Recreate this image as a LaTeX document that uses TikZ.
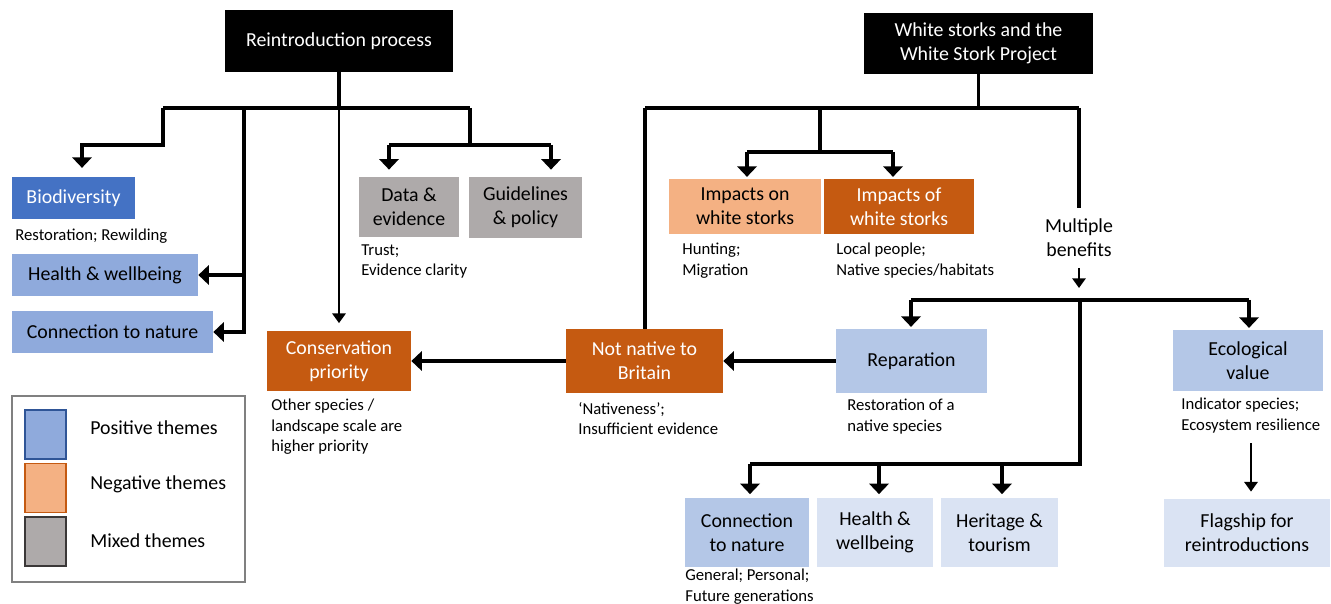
\documentclass[tikz,border=0pt]{standalone}
\usepackage{fontspec}
\setmainfont{Carlito}
\usetikzlibrary{arrows.meta}

\definecolor{posdark}{HTML}{4472C4}
\definecolor{posmid}{HTML}{8FAADC}
\definecolor{poslight}{HTML}{B4C7E7}
\definecolor{pospale}{HTML}{DAE3F3}
\definecolor{posedge}{HTML}{2F5597}
\definecolor{negdark}{HTML}{C55A11}
\definecolor{neglight}{HTML}{F4B183}
\definecolor{mixed}{HTML}{AEAAAA}
\definecolor{mixededge}{HTML}{3B3838}

\tikzset{
  box/.style={inner sep=0pt, align=center, font=\fontsize{11.3}{13.8}\selectfont},
  topbox/.style={box, fill=black, text=white},
  captext/.style={anchor=north west, inner sep=0pt, align=left, font=\fontsize{9.5}{11.5}\selectfont},
  link/.style={line width=1.8pt},
  arr/.style={line width=1.8pt, -{Triangle[width=11pt,length=6pt]}},
  thinarr/.style={line width=1.3pt, -{Triangle[width=7.5pt,length=5.5pt]}},
  swatch/.style={minimum width=0.82cm, minimum height=0.98cm, inner sep=0pt, line width=0.9pt}
}

\begin{document}
\begin{tikzpicture}[x=0.02cm, y=-0.02cm]
\useasboundingbox (0,0) rectangle (1331,604);

% headings
\node[topbox, minimum width=4.56cm, minimum height=1.24cm] (rp) at (339,41) {Reintroduction process};
\node[topbox, minimum width=4.58cm, minimum height=1.22cm] (ws) at (978.5,43.5) {White storks and the\\White Stork Project};

% reintroduction side
\node[box, fill=posdark, text=white, minimum width=2.46cm, minimum height=0.84cm] (bio) at (73.5,198) {Biodiversity};
\node[box, fill=posmid, minimum width=3.72cm, minimum height=0.84cm] (hw1) at (105,275) {Health \& wellbeing};
\node[box, fill=posmid, minimum width=4.02cm, minimum height=0.84cm] (cn1) at (112.5,332) {Connection to nature};
\node[box, fill=negdark, text=white, minimum width=2.88cm, minimum height=1.22cm] (cp) at (339,361) {Conservation\\priority};
\node[box, fill=mixed, minimum width=2.00cm, minimum height=1.20cm] (de) at (409,207) {Data \&\\evidence};
\node[box, fill=mixed, minimum width=2.26cm, minimum height=1.22cm] (gp) at (525.5,207.5) {Guidelines\\\& policy};

% white stork side
\node[box, fill=neglight, minimum width=3.04cm, minimum height=1.10cm] (ion) at (745,206.5) {Impacts on\\white storks};
\node[box, fill=negdark, text=white, minimum width=3.00cm, minimum height=1.10cm] (iof) at (899,206.5) {Impacts of\\white storks};
\node[box, inner sep=6pt] (mb) at (1079,238) {Multiple\\benefits};
\node[box, fill=negdark, text=white, minimum width=3.14cm, minimum height=1.28cm] (nn) at (644.5,361) {Not native to\\Britain};
\node[box, fill=poslight, minimum width=3.02cm, minimum height=1.28cm] (rep) at (911.5,361) {Reparation};
\node[box, fill=poslight, minimum width=3.00cm, minimum height=1.22cm] (ev) at (1248,360.5) {Ecological\\value};
\node[box, fill=pospale, minimum width=3.32cm, minimum height=1.36cm] (fl) at (1247,533) {Flagship for\\reintroductions};
\node[box, fill=poslight, minimum width=2.48cm, minimum height=1.38cm] (cn2) at (747,532.5) {Connection\\to nature};
\node[box, fill=pospale, minimum width=2.32cm, minimum height=1.38cm] (hw2) at (875,532.5) {Health \&\\wellbeing};
\node[box, fill=pospale, minimum width=2.34cm, minimum height=1.38cm] (ht) at (999.5,532.5) {Heritage \&\\tourism};

% captions
\node[captext] (capbio) at (15,229) {Restoration; Rewilding};
\node[captext] (capde) at (361,244) {Trust;\\Evidence clarity};
\node[captext] (capcp) at (271,399) {Other species /\\landscape scale are\\higher priority};
\node[captext] (capion) at (682,243) {Hunting;\\Migration};
\node[captext] (capiof) at (836,243) {Local people;\\Native species/habitats};
\node[captext] (capnn) at (578,402) {‘Nativeness’;\\Insufficient evidence};
\node[captext] (caprep) at (847,399) {Restoration of a\\native species};
\node[captext] (capev) at (1181,398) {Indicator species;\\Ecosystem resilience};
\node[captext] (capcn) at (685,569) {General; Personal;\\Future generations};

% legend
\draw[gray, line width=0.6pt] (12,396) rectangle (245,582);
\node[swatch, fill=posmid, draw=posedge] (swpos) at (45.5,434.5) {};
\node[swatch, fill=neglight, draw=negdark] (swneg) at (45.5,488) {};
\node[swatch, fill=mixed, draw=mixededge] (swmix) at (45.5,541.5) {};
\node[box, anchor=west] (lpos) at (90,428) {Positive themes};
\node[box, anchor=west] (lneg) at (90,484) {Negative themes};
\node[box, anchor=west] (lmix) at (90,541) {Mixed themes};

% junctions
\coordinate (lbusW) at (163,108);
\coordinate (lbusE) at (470,108);
\coordinate (biojoin) at (82,145);
\coordinate (hwline) at (244,108);
\coordinate (mixjoin) at (470,145);
\coordinate (dejoin) at (389,145);
\coordinate (gpjoin) at (551,145);
\coordinate (rbusW) at (645,108);
\coordinate (rbusE) at (1079,108);
\coordinate (impjoin) at (820,152);
\coordinate (ionjoin) at (747,152);
\coordinate (iofjoin) at (893,152);
\coordinate (mbend) at (1079,288);
\coordinate (bbusW) at (911,300);
\coordinate (bbusM) at (1080,300);
\coordinate (bbusE) at (1249,300);
\coordinate (cnjoin) at (750,464);
\coordinate (hwjoin) at (879,464);
\coordinate (htjoin) at (1002,464);
\coordinate (evarr) at (1251,443);

% reintroduction connectors
\draw[link] (rp) -- (rp |- lbusW);
\draw[link] (lbusW) -- (lbusE);
\draw[arr, shorten >=5pt] (lbusW) |- (biojoin) -- (biojoin |- bio.north);
\draw[arr] (hwline) |- (hw1);
\draw[arr] (hwline) |- (cn1);
\draw[thinarr, shorten >=4pt] (rp |- lbusW) -- (cp);
\draw[link] (lbusE) -- (mixjoin);
\draw[link] (dejoin) -- (gpjoin);
\draw[arr, shorten >=4pt] (dejoin) -- (dejoin |- de.north);
\draw[arr, shorten >=4pt] (gpjoin) -- (gpjoin |- gp.north);

% white stork connectors
\draw[link] (ws) -- (ws |- rbusE);
\draw[link] (rbusW) -- (rbusE);
\draw[link] (rbusW) -- (rbusW |- nn.north);
\draw[link] (impjoin |- rbusW) -- (impjoin);
\draw[link] (ionjoin) -- (iofjoin);
\draw[arr, shorten >=1pt] (ionjoin) -- (ionjoin |- ion.north);
\draw[arr, shorten >=1pt] (iofjoin) -- (iofjoin |- iof.north);
\draw[link] (rbusE) -- (mb);
\draw[thinarr] (mb) -- (mbend);
\draw[link] (bbusW) -- (bbusE);
\draw[arr, shorten >=1pt] (bbusW) -- (bbusW |- rep.north);
\draw[arr, shorten >=1pt] (bbusE) -- (bbusE |- ev.north);
\draw[link] (bbusM) |- (cnjoin);
\draw[arr, shorten >=2pt] (cnjoin) -- (cnjoin |- cn2.north);
\draw[arr, shorten >=2pt] (hwjoin) -- (hwjoin |- hw2.north);
\draw[arr, shorten >=2pt] (htjoin) -- (htjoin |- ht.north);
\draw[arr] (rep) -- (nn);
\draw[arr] (nn) -- (cp);
\draw[thinarr, shorten >=4pt] (evarr) -- (evarr |- fl.north);
\end{tikzpicture}
\end{document}
